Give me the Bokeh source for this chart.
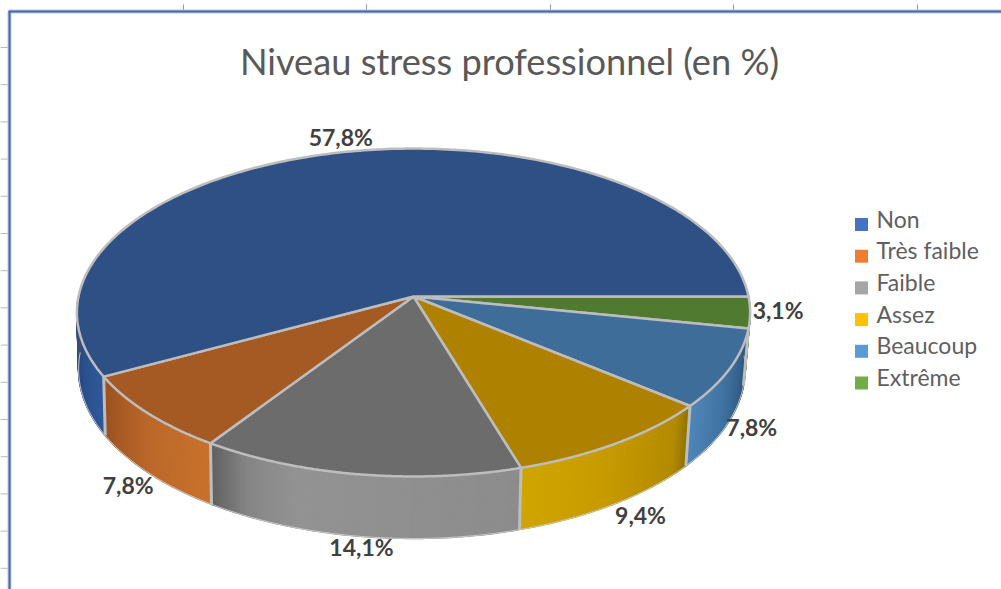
import numpy as np
from bokeh.plotting import figure
from bokeh.models import Range1d
from bokeh.core.properties import value
from bokeh.embed import file_html
from bokeh.resources import INLINE

TITLE = "Niveau stress professionnel (en %)"
categories = ["Non", "Très faible", "Faible", "Assez", "Beaucoup", "Extrême"]
shares = [57.8, 7.8, 14.1, 9.4, 7.8, 3.1]
labels = ["57,8%", "7,8%", "14,1%", "9,4%", "7,8%", "3,1%"]

legend_colors = ["#4472c4", "#ed7d31", "#a5a5a5", "#ffc000", "#5b9bd5", "#70ad47"]
top_colors = ["#2f5085", "#a55a24", "#6c6c6c", "#ae8200", "#3f6d99", "#4f7a30"]
wall_stops = [
    [(0, "#2f5a9c"), (.6, "#2a4c85"), (1, "#3c5075")],
    [(0, "#c8722c"), (.5, "#bb682a"), (1, "#9a5220")],
    [(0, "#8c8c8c"), (.7, "#939393"), (.87, "#858585"), (1, "#606060")],
    [(0, "#8b6f00"), (.12, "#b38a00"), (.6, "#c89c00"), (1, "#d0a500")],
    [(0, "#2b4f73"), (.5, "#3e6e9c"), (1, "#4f86b8")],
    [(0, "#3f6427"), (1, "#5a8a3a")],
]
label_offsets = [(1.5, -16), (-19.5, 71.5), (2.5, 73), (24, 72), (22, 58), (28, -2)]

# pie projection (perspective of a disc seen from the front)
CX, CY, A, B, K = 413, 296, 335, 162.4, 0.0976
BORDER = "#bdbdbd"


def rim(theta):
    X, Y = np.cos(theta), np.sin(theta)
    d = 1 - K * Y
    return CX + A * X / d, CY + B * Y / d


def rim_low(theta):
    x, y = rim(theta)
    scale = np.where(x > CX, 0.985, 0.995)
    return CX + (x - CX) * scale, y + 56 + 6 * np.clip(np.sin(theta), 0, 1)


def hex2rgb(h):
    return np.array([int(h[i:i + 2], 16) for i in (1, 3, 5)], float)


def shade(stops, t):
    ts = [s[0] for s in stops]
    c = np.array([hex2rgb(s[1]) for s in stops])
    rgb = [np.interp(t, ts, c[:, i]) for i in range(3)]
    return "#%02x%02x%02x" % tuple(int(round(v)) for v in rgb)


p = figure(width=1001, height=589, x_range=Range1d(0, 1001), y_range=Range1d(589, 0),
           output_backend="svg", toolbar_location=None, min_border=0,
           x_axis_type=None, y_axis_type=None)
p.grid.visible = False
p.outline_line_color = None
p.background_fill_color = "#ffffff"

# sheet frame and ruler marks
p.segment(x0=[183, 366, 550, 733, 917], y0=[4] * 5, x1=[183, 366, 550, 733, 917], y1=[11] * 5,
          line_color="#8f99a8", line_width=1)
tick_y = 47 + 37.2 * np.arange(15)
p.segment(x0=[0] * 15, y0=tick_y, x1=[8] * 15, y1=tick_y, line_color="#b4bac4", line_width=1)
p.segment(x0=[8, 9], y0=[11, 11], x1=[1001, 9], y1=[11, 589], line_color="#b9c8e2", line_width=4)
p.segment(x0=[8, 9], y0=[11, 11], x1=[1001, 9], y1=[11, 589], line_color="#4a68a6", line_width=2)

# angles: clockwise from the right, the last category first
total = sum(shares)
order = list(range(len(shares)))[::-1]
edges = {}
acc = 0.0
for i in order:
    edges[i] = (acc / total * 2 * np.pi, (acc + shares[i]) / total * 2 * np.pi)
    acc += shares[i]

# walls, split in thin strips to carry the shading
for i in order:
    a0, a1 = edges[i]
    a1c = min(a1, np.pi)
    n = max(int((a1c - a0) / 0.006), 2)
    th = np.linspace(a0, a1c, n + 1)
    xs, ys, cols = [], [], []
    for j in range(n):
        x0, y0 = rim(th[j])
        x1, y1 = rim(th[j + 1])
        lx0, ly0 = rim_low(th[j])
        lx1, ly1 = rim_low(th[j + 1])
        xs.append([x0, x1, float(lx1), float(lx0)])
        ys.append([y0, y1, float(ly1), float(ly0)])
        cols.append(shade(wall_stops[i], ((th[j] + th[j + 1]) / 2 - a0) / (a1c - a0)))
    p.patches(xs, ys, fill_color=cols, line_color=cols, line_width=1.5)

# bottom edge
th = np.linspace(0.02, np.pi, 300)
bx, by = rim_low(th)
p.line(bx, by, line_color="#c9c9c9", line_width=1)

# wall separators
for i in order:
    a = edges[i][1]
    if 0 < a < np.pi:
        x, y = rim(a)
        lx_, ly_ = rim_low(a)
        p.line([x, float(lx_)], [y, float(ly_)], line_color=BORDER, line_width=3)

# top faces
for i in order:
    a0, a1 = edges[i]
    th = np.linspace(a0, a1, 240)
    x, y = rim(th)
    p.patch(np.r_[CX, x], np.r_[CY, y], fill_color=top_colors[i], line_color=BORDER, line_width=2.5,
            line_join="round")

# data labels
for i, txt in enumerate(labels):
    a = sum(edges[i]) / 2
    x, y = rim(a)
    dx, dy = label_offsets[i]
    p.text([x], [y], text=[txt], x_offset=dx, y_offset=dy,
           text_font=value("Lato"), text_font_style="bold", text_font_size="23px",
           text_color="#404040", text_align="center", text_baseline="middle")

# title
p.text([509], [60], text=[TITLE], text_font=value("Lato"), text_font_size="36.2px",
       text_color="#595959", text_align="center", text_baseline="middle")

# legend
lx, ly, step = 861, 224, 31.7
for i, name in enumerate(categories):
    p.scatter([lx], [ly + i * step], marker="square", size=13, fill_color=legend_colors[i], line_color=None)
    p.text([lx + 15], [ly + i * step - 6], text=[name], text_font=value("Lato"), text_font_size="23px",
           text_color="#5f5f5f", text_align="left", text_baseline="middle")

open("out.html", "w").write(file_html(p, INLINE))
